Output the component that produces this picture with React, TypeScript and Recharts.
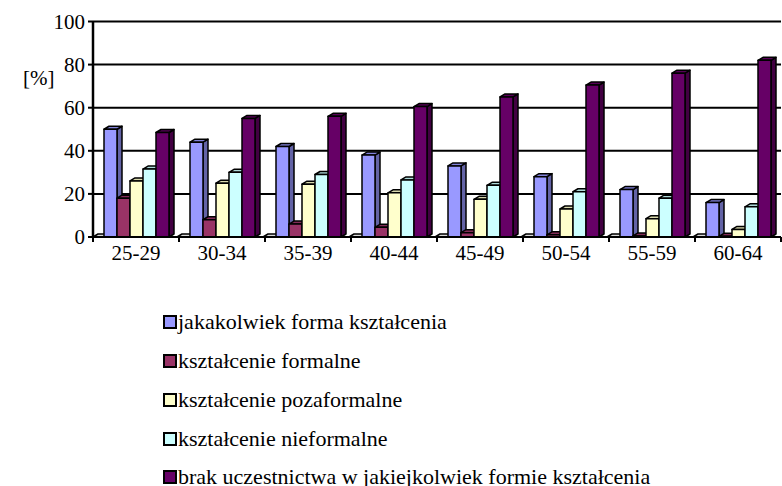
import React from 'react';
import { BarChart, Bar, XAxis, YAxis, CartesianGrid } from 'recharts';

// age groups
const categories = ['25-29', '30-34', '35-39', '40-44', '45-49', '50-54', '55-59', '60-64'];

// participation in education, [%]
const pusta = [0, 0, 0, 0, 0, 0, 0, 0];
const jakakolwiek = [50, 44, 42, 38, 33, 28, 22, 16];
const formalne = [18, 8, 6, 4.5, 2, 1, 0.5, 0.3];
const pozaformalne = [26, 25, 24.5, 20.5, 17.5, 13, 8.5, 3.5];
const nieformalne = [31.5, 30, 29, 26.5, 24, 21, 18, 14];
const brak = [48.5, 55, 56, 60.5, 65, 70.5, 76, 82];

const yTicks = [0, 20, 40, 60, 80, 100];

const series = [
  { key: 'jakakolwiek', name: 'jakakolwiek forma kształcenia', color: '#9999FF', values: jakakolwiek },
  { key: 'formalne', name: 'kształcenie formalne', color: '#993366', values: formalne },
  { key: 'pozaformalne', name: 'kształcenie pozaformalne', color: '#FFFFCC', values: pozaformalne },
  { key: 'nieformalne', name: 'kształcenie nieformalne', color: '#CCFFFF', values: nieformalne },
  { key: 'brak', name: 'brak uczestnictwa w jakiejkolwiek formie kształcenia', color: '#660066', values: brak },
];

const data = categories.map((c, i) => {
  const row: any = { name: c, pusta: pusta[i] };
  series.forEach(s => { row[s.key] = s.values[i]; });
  return row;
});

const FONT = "'Liberation Serif', Tinos, 'Times New Roman', 'DejaVu Serif', serif";
const PLOT_LEFT = 93;
const BAND = 86;
const SHIFT = -6; // 3D projection shifts the front faces to the left
const DX = 5;
const DY = 3;

const shade = (hex: string, f: number) => {
  const n = parseInt(hex.slice(1), 16);
  const r = Math.round(((n >> 16) & 255) * f);
  const g = Math.round(((n >> 8) & 255) * f);
  const b = Math.round((n & 255) * f);
  return `rgb(${r},${g},${b})`;
};

// column drawn as a simple 3D box: front face, top face, right side
const Bar3D = (props: any) => {
  const { x, y, width, height, fill } = props;
  if (x == null || y == null) return null;
  const fx = Math.max(x + SHIFT, PLOT_LEFT);
  const w = x + SHIFT + width - fx;
  const h = Math.max(height, 0);
  const top = `${fx},${y} ${fx + DX},${y - DY} ${fx + w + DX},${y - DY} ${fx + w},${y}`;
  const side = `${fx + w},${y} ${fx + w + DX},${y - DY} ${fx + w + DX},${y + h - DY} ${fx + w},${y + h}`;
  return (
    <g stroke="#000" strokeWidth={1.5} strokeLinejoin="round">
      <polygon points={side} fill={shade(fill, 0.65)} />
      <polygon points={top} fill={shade(fill, 0.85)} />
      {h > 0 && <rect x={fx} y={y} width={w} height={h} fill={fill} />}
    </g>
  );
};

const CategoryTick = (props: any) => {
  const { x, y, payload, index, visibleTicksCount } = props;
  const half = payload && payload.offset ? payload.offset : BAND / 2;
  const axisY = y - 8;
  return (
    <g>
      <line x1={x - half} x2={x - half} y1={axisY} y2={axisY + 5} stroke="#000" strokeWidth={2} />
      {index === visibleTicksCount - 1 && (
        <line x1={x + half} x2={x + half} y1={axisY} y2={axisY + 5} stroke="#000" strokeWidth={2} />
      )}
      <text x={x} y={y} dy="0.71em" textAnchor="middle" fontSize={21} fill="#000" style={{ fontFamily: FONT }}>
        {payload.value}
      </text>
    </g>
  );
};

const legendTops = [322, 361, 400, 438.5, 477];

export default function App() {
  return (
    <div style={{ position: 'absolute', left: 0, top: 0, width: 782, height: 486, overflow: 'hidden', background: '#fff', fontFamily: FONT }}>
      <BarChart
        width={782}
        height={277}
        data={data}
        margin={{ top: 21.5, right: 1, left: 0, bottom: 0 }}
        barSize={13}
        barGap={0}
        style={{ fontFamily: FONT }}
      >
        <CartesianGrid horizontal vertical={false} stroke="#000" strokeWidth={2} />
        <XAxis
          dataKey="name"
          height={40}
          interval={0}
          tickSize={5}
          tickMargin={3}
          tickLine={false}
          axisLine={{ stroke: '#000', strokeWidth: 2 }}
          tick={<CategoryTick />}
        />
        <YAxis
          domain={[0, 100]}
          ticks={yTicks}
          width={PLOT_LEFT}
          tickSize={5}
          tickMargin={3}
          tick={{ fontSize: 21, fill: '#000', style: { fontFamily: FONT } }}
          tickLine={{ stroke: '#000', strokeWidth: 2 }}
          axisLine={{ stroke: '#000', strokeWidth: 2.5 }}
        />
        <Bar dataKey="pusta" fill="#ffffff" shape={<Bar3D />} isAnimationActive={false} />
        {series.map(s => (
          <Bar key={s.key} dataKey={s.key} name={s.name} fill={s.color} shape={<Bar3D />} isAnimationActive={false} />
        ))}
      </BarChart>

      <div style={{ position: 'absolute', left: 23, top: 66, fontSize: 21, lineHeight: '24px' }}>[%]</div>

      {series.map((s, i) => (
        <div
          key={s.key}
          style={{ position: 'absolute', left: 162.5, top: legendTops[i] - 12, height: 24, display: 'flex', alignItems: 'center', fontSize: 22, whiteSpace: 'nowrap' }}
        >
          <span style={{ display: 'inline-block', width: 14, height: 14, boxSizing: 'border-box', border: '2px solid #000', background: s.color, marginRight: 1.5 }} />
          <span>{s.name}</span>
        </div>
      ))}
    </div>
  );
}
